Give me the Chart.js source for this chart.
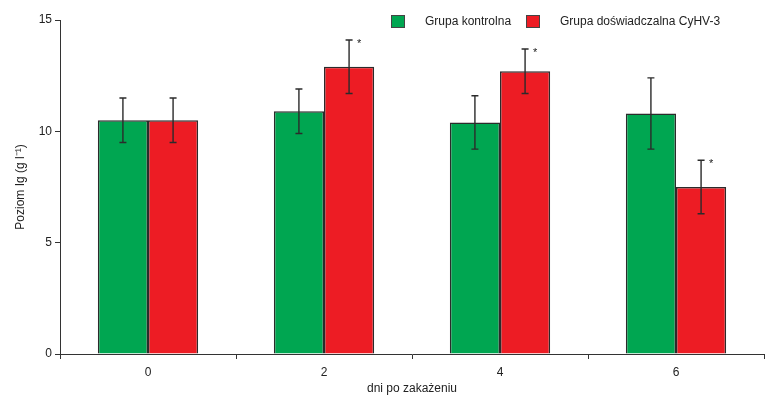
<!DOCTYPE html>
<html>
<head>
<meta charset="utf-8">
<script src="https://cdn.jsdelivr.net/npm/chart.js@4"></script>
<style>
  html, body { margin: 0; padding: 0; background: #fff; }
  #wrap { width: 766px; height: 396px; }
</style>
</head>
<body>
<div id="wrap"><canvas id="igChart" width="766" height="396"></canvas></div>
<script>
const days = ['0', '2', '4', '6'];
const seriesNames = ['Grupa kontrolna', 'Grupa doświadczalna CyHV-3'];
const controlMean = [10.5, 10.9, 10.4, 10.8];
const controlLow = [9.5, 9.9, 9.2, 9.2];
const controlHigh = [11.5, 11.9, 11.6, 12.4];
const infectedMean = [10.5, 12.9, 12.7, 7.5];
const infectedLow = [9.5, 11.7, 11.7, 6.3];
const infectedHigh = [11.5, 14.1, 13.7, 8.7];
const significant = [false, true, true, true];
const yTicks = [0, 5, 10, 15];

const green = '#00a651';
const red = '#ed1c24';
const fontFamily = "'Liberation Sans Narrow', 'Arial Narrow', 'Liberation Sans', Arial, sans-serif";

const ctx = document.getElementById('igChart').getContext('2d');

// error bars + asterisks, drawn through the chart's own scales
const errorBars = {
    id: 'errorBars',
    afterDatasetsDraw(chart) {
        const c = chart.ctx;
        const y = chart.scales.y;
        const ranges = [[controlLow, controlHigh], [infectedLow, infectedHigh]];
        c.save();
        c.strokeStyle = '#2b2b2b';
        c.lineWidth = 1.4;
        ranges.forEach((r, di) => {
            const meta = chart.getDatasetMeta(di);
            meta.data.forEach((bar, i) => {
                const x = bar.x;
                const yLo = y.getPixelForValue(r[0][i]);
                const yHi = y.getPixelForValue(r[1][i]);
                c.beginPath();
                c.moveTo(x, yLo); c.lineTo(x, yHi);
                c.moveTo(x - 3.5, yLo); c.lineTo(x + 3.5, yLo);
                c.moveTo(x - 3.5, yHi); c.lineTo(x + 3.5, yHi);
                c.stroke();
                if (di === 1 && significant[i]) {
                    c.fillStyle = '#222';
                    c.font = '11px ' + fontFamily;
                    c.textAlign = 'left';
                    c.textBaseline = 'middle';
                    c.fillText('*', x + 8, yHi + 4);
                }
            });
        });
        c.restore();
    }
};

// legend drawn at the top right like the original figure
const boxLegend = {
    id: 'boxLegend',
    afterDraw(chart) {
        const c = chart.ctx;
        const items = [
            { color: green, text: seriesNames[0], x: 391 },
            { color: red, text: seriesNames[1], x: 526 }
        ];
        c.save();
        c.font = '12px ' + fontFamily;
        c.textBaseline = 'middle';
        c.textAlign = 'left';
        items.forEach(it => {
            c.fillStyle = it.color;
            c.fillRect(it.x, 15, 13, 12);
            c.strokeStyle = '#444';
            c.lineWidth = 1;
            c.strokeRect(it.x + 0.5, 15.5, 13, 12);
            c.fillStyle = '#222';
            c.fillText(it.text, it.x + 34, 22);
        });
        c.restore();
    }
};

new Chart(ctx, {
    type: 'bar',
    data: {
        labels: days,
        datasets: [{
            label: seriesNames[0],
            data: controlMean,
            backgroundColor: green,
            borderColor: '#2b2b2b',
            borderWidth: 1.5,
            barPercentage: 1,
            categoryPercentage: 0.57
        }, {
            label: seriesNames[1],
            data: infectedMean,
            backgroundColor: red,
            borderColor: '#2b2b2b',
            borderWidth: 1.5,
            barPercentage: 1,
            categoryPercentage: 0.57
        }]
    },
    options: {
        responsive: false,
        animation: false,
        layout: { padding: { top: 20, right: 2, left: 0, bottom: 0 } },
        plugins: {
            legend: { display: false },
            tooltip: { enabled: false }
        },
        scales: {
            x: {
                grid: { display: true, drawOnChartArea: false, drawTicks: true, tickLength: 5, color: '#333', offset: true },
                border: { display: true, color: '#333', width: 1 },
                ticks: { color: '#222', font: { size: 12, family: fontFamily }, padding: 6 },
                title: { display: true, text: 'dni po zakażeniu', color: '#222', font: { size: 12, family: fontFamily }, padding: { top: 4, bottom: 0 } },
                afterFit: s => { s.height = 42; }
            },
            y: {
                min: 0,
                max: 15,
                afterBuildTicks: s => { s.ticks = yTicks.map(v => ({ value: v })); },
                grid: { display: true, drawOnChartArea: false, drawTicks: true, tickLength: 5, color: '#333' },
                border: { display: true, color: '#333', width: 1 },
                ticks: { color: '#222', font: { size: 12, family: fontFamily }, padding: 3 },
                title: { display: true, text: 'Poziom Ig (g l⁻¹)', color: '#222', font: { size: 12, family: fontFamily }, padding: { top: 13, bottom: 8 } },
                afterFit: s => { s.width = 60; }
            }
        }
    },
    plugins: [errorBars, boxLegend]
});
</script>
</body>
</html>
